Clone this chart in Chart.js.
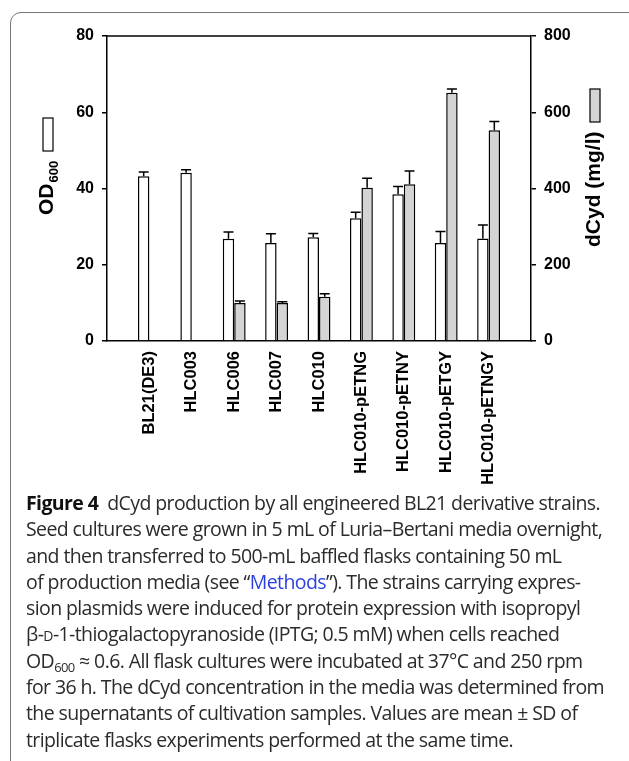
<!DOCTYPE html>
<html>
<head>
<meta charset="utf-8">
<script src="https://cdn.jsdelivr.net/npm/chart.js@4.4.1/dist/chart.umd.min.js"></script>
<style>
    html, body { margin: 0; padding: 0; background: #fff; overflow: hidden; }
    body { width: 629px; height: 761px; position: relative; }
    #frame {
        position: absolute; left: 10px; top: 12px; width: 640px; height: 800px;
        border: 1px solid #777; border-radius: 11px; box-sizing: border-box;
    }
    #wrap { position: absolute; left: 0; top: 0; width: 629px; height: 490px; }
    #caption {
        position: absolute; left: 26px; top: 490px; width: 600px;
        font-family: "Open Sans", "Noto Sans", sans-serif; font-size: 19.5px;
        line-height: 26.3px; color: #2b2b2b; letter-spacing: -0.6px; white-space: nowrap;
    }
    #caption b { color: #111; }
    #caption .link { color: #2b3fe0; }
    #caption .sc { font-variant: small-caps; }
    #caption sub { font-size: 13px; line-height: 0; vertical-align: -4px; }
</style>
</head>
<body>
<div id="frame"></div>
<div id="wrap"><canvas id="strain-chart" width="629" height="490"></canvas></div>
<div id="caption">
<b>Figure 4</b>&nbsp; dCyd production by all engineered BL21 derivative strains.<br>
Seed cultures were grown in 5 mL of Luria–Bertani media overnight,<br>
and then transferred to 500-mL baffled flasks containing 50 mL<br>
of production media (see “<span class="link">Methods</span>”). The strains carrying expres-<br>
sion plasmids were induced for protein expression with isopropyl<br>
β-<span class="sc">d</span>-1-thiogalactopyranoside (IPTG; 0.5 mM) when cells reached<br>
OD<sub>600</sub> ≈ 0.6. All flask cultures were incubated at 37°C and 250 rpm<br>
for 36 h. The dCyd concentration in the media was determined from<br>
the supernatants of cultivation samples. Values are mean ± SD of<br>
triplicate flasks experiments performed at the same time.
</div>
<script>
const strains = ['BL21(DE3)', 'HLC003', 'HLC006', 'HLC007', 'HLC010',
    'HLC010-pETNG', 'HLC010-pETNY', 'HLC010-pETGY', 'HLC010-pETNGY'];
const od600 = [43.2, 44.1, 26.8, 25.7, 27.2, 32.2, 38.5, 25.7, 26.9];
const od600Sd = [1.1, 0.8, 1.8, 2.4, 1.0, 1.6, 2.0, 3.0, 3.5];
const dcyd = [null, null, 100, 100, 116, 402, 411, 651, 553];
const dcydSd = [null, null, 5, 3, 8, 25, 35, 10, 23];
const odTicks = [0, 20, 40, 60, 80];
const dcydTicks = [0, 200, 400, 600, 800];

// empty slot at each end so the bars sit a full step away from the axes
const pad = arr => [null, ...arr, null];
const labels = ['', ...strains, ''];
const errors = [pad(od600Sd), pad(dcydSd)];

const axisFont = { family: '"Liberation Sans", Arial, sans-serif', size: 16, weight: 'bold' };

const errorBars = {
    id: 'errorBars',
    afterDatasetsDraw(chart) {
        const ctx = chart.ctx;
        ctx.save();
        ctx.strokeStyle = '#000';
        ctx.lineWidth = 1.5;
        errors.forEach((errs, i) => {
            const meta = chart.getDatasetMeta(i);
            const scale = chart.scales[meta.yAxisID];
            meta.data.forEach((bar, j) => {
                const v = chart.data.datasets[i].data[j];
                const e = errs[j];
                if (v == null || e == null) return;
                const yTop = scale.getPixelForValue(v + e);
                ctx.beginPath();
                ctx.moveTo(bar.x, bar.y);
                ctx.lineTo(bar.x, yTop);
                ctx.moveTo(bar.x - 5, yTop);
                ctx.lineTo(bar.x + 5, yTop);
                ctx.stroke();
            });
        });
        ctx.restore();
    }
};

const titles = {
    id: 'titles',
    afterDraw(chart) {
        const ctx = chart.ctx;
        const area = chart.chartArea;
        ctx.save();
        ctx.fillStyle = '#000';
        ctx.strokeStyle = '#000';
        // top frame line
        ctx.lineWidth = 1.5;
        ctx.beginPath();
        ctx.moveTo(area.left, area.top);
        ctx.lineTo(area.right, area.top);
        ctx.stroke();

        // left title: OD600 + white box
        ctx.save();
        ctx.translate(area.left - 54, area.bottom - 126);
        ctx.rotate(-Math.PI / 2);
        ctx.font = 'bold 21px "Liberation Sans", Arial, sans-serif';
        ctx.fillText('OD', 0, 0);
        const w = ctx.measureText('OD').width;
        ctx.font = 'bold 13px "Liberation Sans", Arial, sans-serif';
        ctx.fillText('600', w + 1, 5);
        ctx.restore();
        ctx.lineWidth = 1.2;
        ctx.fillStyle = '#fff';
        ctx.fillRect(area.left - 64, 118, 10, 33);
        ctx.strokeRect(area.left - 64, 118, 10, 33);

        // right title: dCyd (mg/l) + grey box
        ctx.fillStyle = '#000';
        ctx.save();
        ctx.translate(area.right + 69, area.bottom - 94);
        ctx.rotate(-Math.PI / 2);
        ctx.font = 'bold 21px "Liberation Sans", Arial, sans-serif';
        ctx.fillText('dCyd (mg/l)', 0, 0);
        ctx.restore();
        ctx.fillStyle = '#d4d4d4';
        ctx.fillRect(area.right + 59, 89, 10, 33);
        ctx.strokeRect(area.right + 59, 89, 10, 33);
        ctx.restore();
    }
};

const yAxis = (position, ticks, width) => ({
    type: 'linear',
    position: position,
    min: ticks[0],
    max: ticks[ticks.length - 1],
    afterBuildTicks: scale => { scale.ticks = ticks.map(v => ({ value: v })); },
    afterFit: scale => { scale.width = width; },
    grid: { display: true, drawOnChartArea: false, drawTicks: true, tickLength: 5, color: '#000', lineWidth: 1.5 },
    border: { display: true, color: '#000', width: 1.5 },
    ticks: { color: '#000', font: axisFont, padding: 8 }
});

const ctx = document.getElementById('strain-chart').getContext('2d');
new Chart(ctx, {
    type: 'bar',
    data: {
        labels: labels,
        datasets: [{
            label: 'OD600',
            data: pad(od600),
            yAxisID: 'yOd',
            backgroundColor: '#ffffff',
            borderColor: '#000000',
            borderWidth: 1.5,
            categoryPercentage: 0.54,
            barPercentage: 1.0
        }, {
            label: 'dCyd (mg/l)',
            data: pad(dcyd),
            yAxisID: 'yDcyd',
            backgroundColor: '#d4d4d4',
            borderColor: '#000000',
            borderWidth: 1.5,
            categoryPercentage: 0.54,
            barPercentage: 1.0
        }]
    },
    options: {
        responsive: false,
        animation: false,
        devicePixelRatio: 1,
        layout: { padding: { top: 36, left: 0, right: 0, bottom: 0 } },
        plugins: { legend: { display: false }, tooltip: { enabled: false } },
        scales: {
            x: {
                offset: false,
                afterFit: scale => { scale.height = 149; },
                grid: { display: false, drawTicks: false },
                border: { display: true, color: '#000', width: 1.5 },
                ticks: {
                    color: '#000', padding: 10, minRotation: 90, maxRotation: 90, autoSkip: false,
                    font: { family: '"Liberation Sans", Arial, sans-serif', size: 16.5, weight: 'bold' }
                }
            },
            yOd: yAxis('left', odTicks, 107),
            yDcyd: yAxis('right', dcydTicks, 98)
        }
    },
    plugins: [errorBars, titles]
});
</script>
</body>
</html>
